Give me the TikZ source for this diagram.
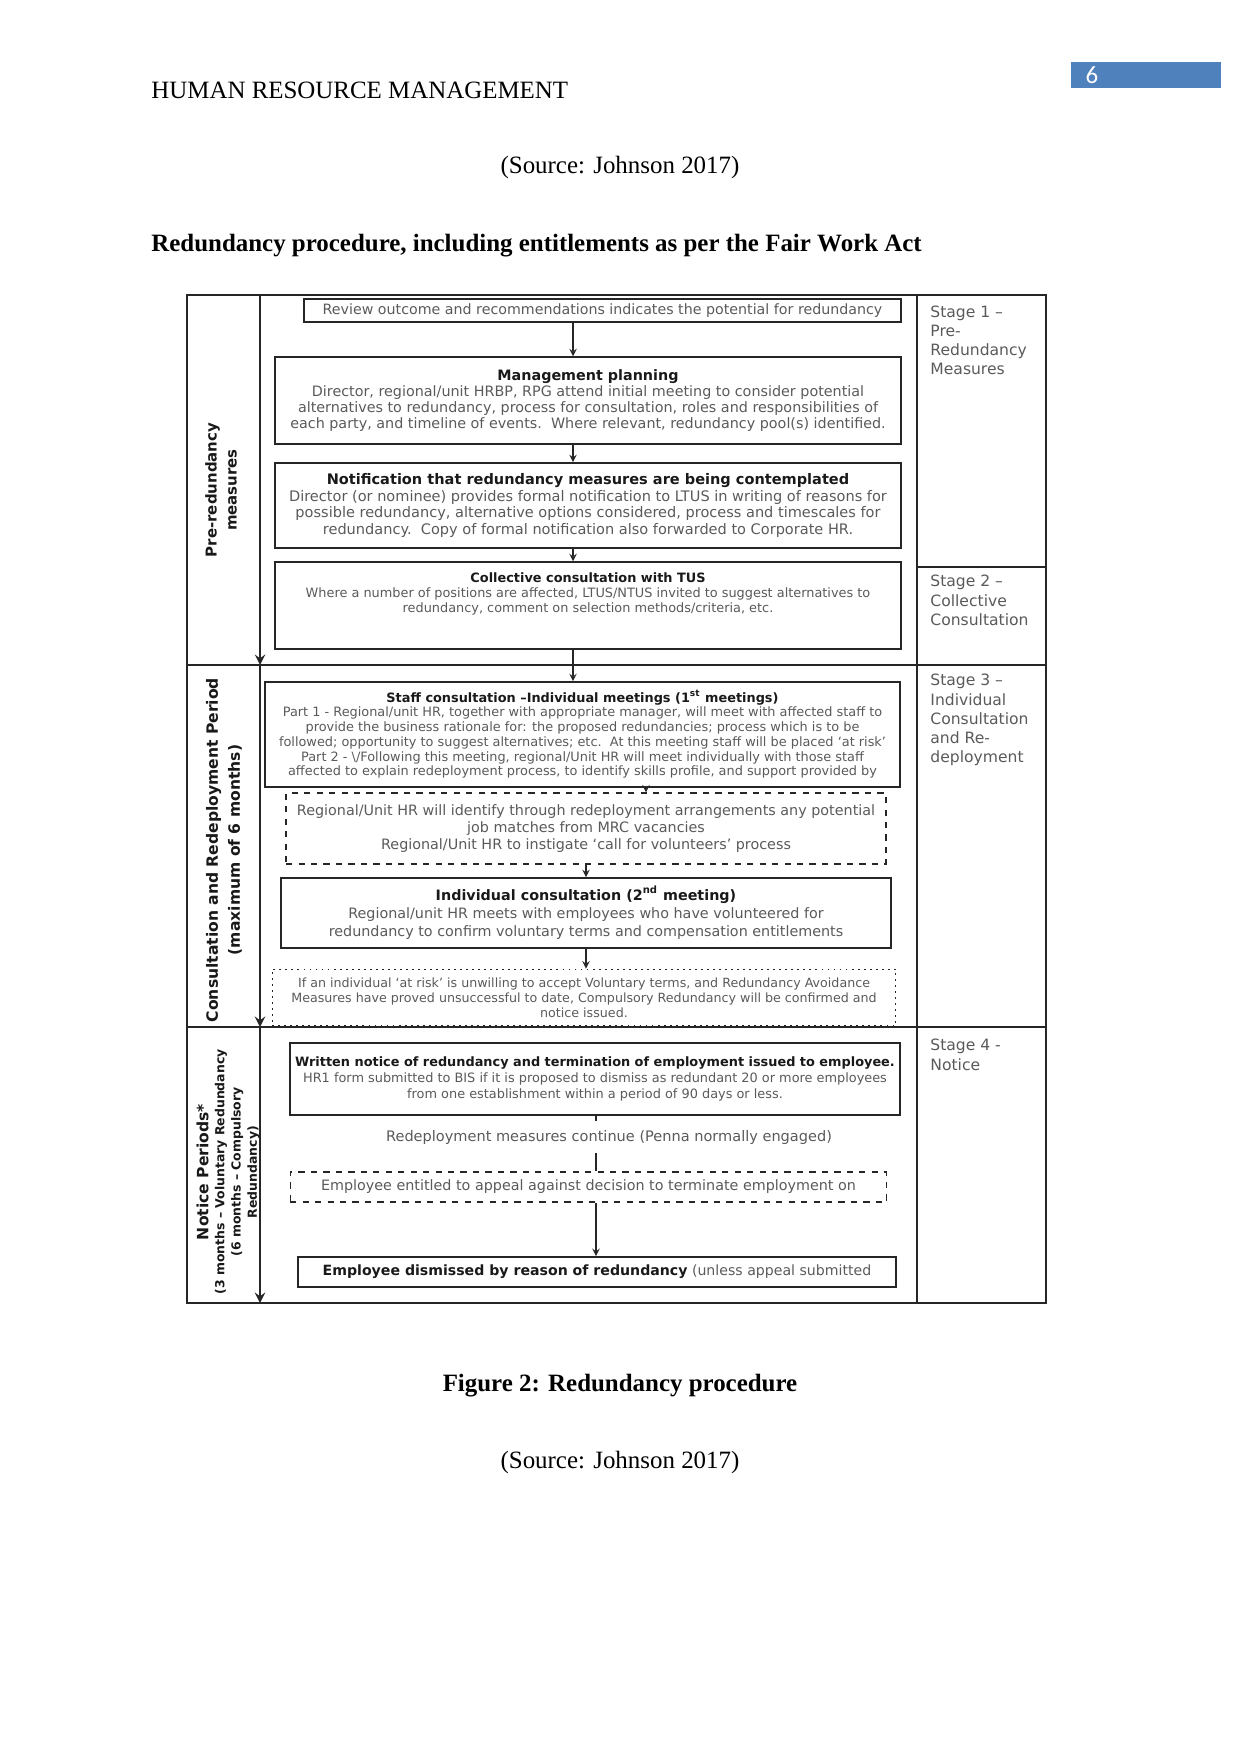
\documentclass[tikz,border=0pt]{standalone}
\usepackage{fontspec}
\setmainfont{Liberation Serif}
\newfontfamily\verd{DejaVu Sans}
\newfontfamily\calib{Carlito}
\definecolor{bodygray}{HTML}{5A5A5A}
\definecolor{numblue}{HTML}{4F81BD}
\newcommand{\boxfont}[2]{\verd\fontsize{#1}{#2}\selectfont}
\newcommand{\boxtitle}[1]{{\bfseries\color{black!90}#1}}
\newcommand{\pagefont}{\fontsize{12}{14.5}\selectfont}

\begin{document}
\begin{tikzpicture}[x=0.016922cm, y=-0.016922cm,
    grid/.style={line width=1.2pt, black!85},
    lanearrow/.style={grid, -stealth},
    procbox/.style={draw=black!85, line width=0.9pt, align=center, inner sep=1pt, text=bodygray},
    dashbox/.style={procbox, dashed, line width=0.6pt},
    dotbox/.style={procbox, dotted, line width=0.6pt},
    flow/.style={-stealth, line width=0.6pt, black!85},
    link/.style={line width=0.6pt, black!85},
    lanelabel/.style={rotate=90, align=center, text=black!90},
    stagelabel/.style={anchor=north west, align=left, inner sep=0pt, text=bodygray, font=\boxfont{7.5}{9.2}}]
  \useasboundingbox (0,0) rectangle (1241,1754);

  % Page text
  \node[anchor=base west, inner sep=0pt, font=\pagefont] (header) at (151,99) {HUMAN RESOURCE MANAGEMENT};
  \node[fill=numblue, minimum width=72pt, minimum height=12.5pt, inner sep=0pt] (numbox) at (1146,75) {};
  \node[text=white, font=\calib\pagefont, inner sep=0pt] (pagenum) at (1092,75) {6};
  \node[anchor=base, inner sep=0pt, font=\pagefont] (source1) at (620,174) {(Source: Johnson 2017)};
  \node[anchor=base west, inner sep=0pt, font=\pagefont\bfseries] (heading) at (151,252) {Redundancy procedure, including entitlements as per the Fair Work Act};
  \node[anchor=base, inner sep=0pt, font=\pagefont\bfseries] (caption) at (620,1391) {Figure 2: Redundancy procedure};
  \node[anchor=base, inner sep=0pt, font=\pagefont] (source2) at (620,1468) {(Source: Johnson 2017)};

  % Lanes
  \draw[grid] (187,295) rectangle (1046,1303);
  \draw[grid] (187,665) -- (1046,665);
  \draw[grid] (187,1027) -- (1046,1027);
  \draw[grid] (917,295) -- (917,1303);
  \draw[grid] (917,567) -- (1046,567);
  \coordinate (laneA) at (260,295);
  \coordinate (laneB) at (260,665);
  \coordinate (laneC) at (260,1027);
  \coordinate (laneD) at (260,1303);

  \node[lanelabel, font=\verd\bfseries\fontsize{7.2}{9.6}\selectfont] (pre) at (221,490) {Pre-redundancy\\measures};
  \node[lanelabel, font=\verd\bfseries\fontsize{7.5}{10.5}\selectfont] (consult) at (224,850) {Consultation and Redeployment Period\\(maximum of 6 months)};
  \node[lanelabel, font=\verd\bfseries\fontsize{6}{7.8}\selectfont] (notice) at (228,1172) {{\fontsize{7.5}{9}\selectfont Notice Periods*}\\(3 months – Voluntary Redundancy\\(6 months – Compulsory\\Redundancy)};

  \node[stagelabel] (stage1) at (930,305.5) {Stage 1 –\\Pre-\\Redundancy\\Measures};
  \node[stagelabel] (stage2) at (930,575) {Stage 2 –\\Collective\\Consultation};
  \node[stagelabel] (stage3) at (930,674) {Stage 3 –\\Individual\\Consultation\\and Re-\\deployment};
  \node[stagelabel] (stage4) at (930,1039) {Stage 4 -\\Notice};

  % Nodes
  \node[procbox, minimum width=287.3pt, minimum height=11pt, font=\boxfont{6.85}{8}] (review) at (602.5,310.5)
    {Review outcome and recommendations indicates the potential for redundancy};
  \node[procbox, minimum width=301.2pt, minimum height=41.7pt, font=\boxfont{6.9}{7.6}] (planning) at (588,400.5)
    {\boxtitle{Management planning}\\
     Director, regional/unit HRBP, RPG attend initial meeting to consider potential\\
     alternatives to redundancy, process for consultation, roles and responsibilities of\\
     each party, and timeline of events.\ \ Where relevant, redundancy pool(s) identified.};
  \node[procbox, minimum width=301.2pt, minimum height=40.8pt, font=\boxfont{7}{8.1}] (notify) at (588,505.5)
    {\boxtitle{Notification that redundancy measures are being contemplated}\\
     Director (or nominee) provides formal notification to LTUS in writing of reasons for\\
     possible redundancy, alternative options considered, process and timescales for\\
     redundancy.\ \ Copy of formal notification also forwarded to Corporate HR.};
  \node[procbox, minimum width=301.2pt, minimum height=41.7pt, font=\boxfont{6.2}{7.4}] (collective) at (588,605.5)
    {\boxtitle{Collective consultation with TUS}\\
     Where a number of positions are affected, LTUS/NTUS invited to suggest alternatives to\\
     redundancy, comment on selection methods/criteria, etc.\\[5pt]\mbox{}};
  \node[procbox, minimum width=305.6pt, minimum height=50.4pt, font=\boxfont{6.2}{7.1}] (staff) at (582.5,734.5)
    {\boxtitle{Staff consultation –Individual meetings (1\textsuperscript{st} meetings)}\\
     Part 1 - Regional/unit HR, together with appropriate manager, will meet with affected staff to\\
     provide the business rationale for: the proposed redundancies; process which is to be\\
     followed; opportunity to suggest alternatives; etc.\ \ At this meeting staff will be placed ‘at risk’\\
     Part 2 - \textbackslash/Following this meeting, regional/Unit HR will meet individually with those staff\\
     affected to explain redeployment process, to identify skills profile, and support provided by};
  \node[dashbox, minimum width=288.8pt, minimum height=34.1pt, font=\boxfont{6.9}{8}] (matches) at (586,828.5)
    {Regional/Unit HR will identify through redeployment arrangements any potential\\
     job matches from MRC vacancies\\
     Regional/Unit HR to instigate ‘call for volunteers’ process};
  \node[procbox, minimum width=293.6pt, minimum height=33.6pt, font=\boxfont{6.9}{8.8}] (second) at (586,913)
    {\boxtitle{Individual consultation (2\textsuperscript{nd} meeting)}\\
     Regional/unit HR meets with employees who have volunteered for\\
     redundancy to confirm voluntary terms and compensation entitlements};
  \node[dotbox, minimum width=300.3pt, minimum height=27.3pt, font=\boxfont{6.1}{7.2}] (atrisk) at (584,997.5)
    {If an individual ‘at risk’ is unwilling to accept Voluntary terms, and Redundancy Avoidance\\
     Measures have proved unsuccessful to date, Compulsory Redundancy will be confirmed and\\
     notice issued.};
  \node[procbox, minimum width=293.6pt, minimum height=34.5pt, font=\boxfont{6.2}{7.5}] (written) at (595,1079)
    {\boxtitle{Written notice of redundancy and termination of employment issued to employee.}\\
     HR1 form submitted to BIS if it is proposed to dismiss as redundant 20 or more employees\\
     from one establishment within a period of 90 days or less.};
  \node[procbox, draw=none, minimum height=14.4pt, font=\boxfont{7}{8.5}] (redeploy) at (609,1137)
    {Redeployment measures continue (Penna normally engaged)};
  \node[dashbox, minimum width=287.3pt, minimum height=14.4pt, font=\boxfont{6.9}{8}] (appeal) at (588.5,1187)
    {Employee entitled to appeal against decision to terminate employment on};
  \node[procbox, minimum width=287.8pt, minimum height=14.4pt, font=\boxfont{6.8}{8}] (dismissed) at (597,1272)
    {\boxtitle{Employee dismissed by reason of redundancy} (unless appeal submitted};

  % Edges
  \coordinate (spine) at (573,0);
  \coordinate (tick) at (646,0);
  \coordinate (spineb) at (586,0);
  \coordinate (spinec) at (596,0);
  \draw[lanearrow] (laneA) -- (laneB);
  \draw[lanearrow] (laneB) -- (laneC);
  \draw[lanearrow] (laneC) -- (laneD);
  \draw[flow] (review.south -| spine) -- (planning.north -| spine);
  \draw[flow] (planning.south -| spine) -- (notify.north -| spine);
  \draw[flow] (notify.south -| spine) -- (collective.north -| spine);
  \draw[flow] (collective.south -| spine) -- (staff.north -| spine);
  \draw[flow] (staff.south -| tick) -- (matches.north -| tick);
  \draw[flow] (matches.south -| spineb) -- (second.north -| spineb);
  \draw[flow] (second.south -| spineb) -- (atrisk.north -| spineb);
  \draw[link] (written.south -| spinec) -- (redeploy.north -| spinec);
  \draw[link] (redeploy.south -| spinec) -- (appeal.north -| spinec);
  \draw[flow] (appeal.south -| spinec) -- (dismissed.north -| spinec);
\end{tikzpicture}
\end{document}
